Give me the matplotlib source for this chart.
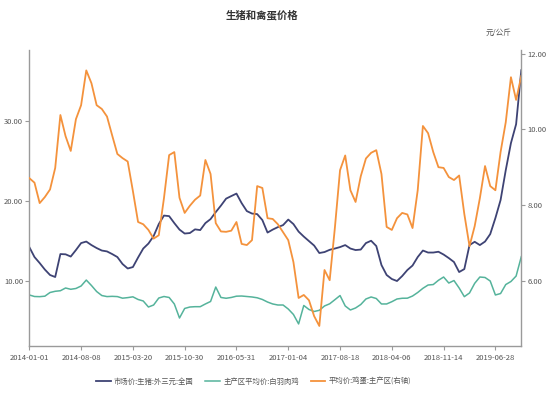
import matplotlib.pyplot as plt
import numpy as np

plt.rcParams['font.family'] = ['Noto Sans CJK SC', 'DejaVu Sans']

# x axis labels, one every 10 points
tick_labels = ['2014-01-01', '2014-08-08', '2015-03-20', '2015-10-30', '2016-05-31',
               '2017-01-04', '2017-08-18', '2018-04-06', '2018-11-14', '2019-06-28']
tick_every = 10

# 市场价:生猪:外三元:全国 (left axis)
hog = [14.23, 12.99, 12.24, 11.43, 10.75, 10.50, 13.36, 13.33, 13.05, 13.86,
       14.73, 14.92, 14.48, 14.11, 13.80, 13.69, 13.36, 12.99, 12.12, 11.56,
       11.74, 12.93, 14.05, 14.67, 15.60, 17.10, 18.16, 18.09, 17.22, 16.41,
       15.92, 15.98, 16.44, 16.35, 17.22, 17.72, 18.59, 19.40, 20.27, 20.59,
       20.90, 19.71, 18.72, 18.41, 18.34, 17.60, 16.04, 16.41, 16.72, 16.97,
       17.66, 17.10, 16.16, 15.54, 14.98, 14.42, 13.49, 13.61, 13.89, 14.05,
       14.23, 14.48, 14.05, 13.86, 13.92, 14.73, 15.02, 14.36, 11.99, 10.75,
       10.25, 10.00, 10.62, 11.37, 11.93, 12.99, 13.80, 13.55, 13.55, 13.65,
       13.30, 12.86, 12.37, 11.12, 11.49, 14.48, 14.89, 14.48, 14.92, 15.85,
       17.85, 20.09, 23.82, 27.19, 29.55, 36.28]

# 主产区平均价:白羽肉鸡 (left axis)
broiler = [8.26, 8.07, 8.05, 8.11, 8.57, 8.72, 8.79, 9.13, 8.97, 9.07,
           9.38, 10.12, 9.44, 8.69, 8.19, 8.06, 8.09, 8.06, 7.86, 7.93,
           8.03, 7.70, 7.51, 6.76, 7.01, 7.88, 8.07, 7.95, 7.14, 5.39,
           6.58, 6.76, 6.80, 6.80, 7.14, 7.45, 9.25, 7.95, 7.85, 7.95,
           8.11, 8.13, 8.07, 8.01, 7.91, 7.70, 7.38, 7.14, 7.01, 7.01,
           6.51, 5.83, 4.65, 6.95, 6.45, 6.20, 6.35, 6.89, 7.16, 7.67,
           8.19, 6.89, 6.39, 6.64, 7.07, 7.76, 8.01, 7.82, 7.14, 7.14,
           7.42, 7.76, 7.85, 7.86, 8.13, 8.57, 9.09, 9.50, 9.56, 10.09,
           10.50, 9.75, 10.06, 9.13, 8.05, 8.51, 9.71, 10.50, 10.44, 10.00,
           8.26, 8.44, 9.56, 9.94, 10.62, 13.03]

# 平均价:鸡蛋:主产区 (right axis)
egg = [8.71, 8.59, 8.05, 8.21, 8.41, 8.98, 10.38, 9.82, 9.43, 10.27,
       10.64, 11.56, 11.22, 10.64, 10.54, 10.34, 9.84, 9.35, 9.24, 9.15,
       8.37, 7.55, 7.49, 7.34, 7.11, 7.20, 8.18, 9.32, 9.40, 8.19,
       7.79, 7.98, 8.14, 8.25, 9.19, 8.82, 7.52, 7.30, 7.29, 7.32,
       7.55, 6.97, 6.94, 7.07, 8.50, 8.45, 7.65, 7.63, 7.49, 7.28,
       7.07, 6.49, 5.54, 5.62, 5.48, 5.06, 4.80, 6.28, 6.01, 7.39,
       8.92, 9.31, 8.39, 8.08, 8.76, 9.23, 9.38, 9.45, 8.82, 7.42,
       7.34, 7.65, 7.79, 7.75, 7.39, 8.39, 10.09, 9.90, 9.40, 9.00,
       8.98, 8.74, 8.66, 8.78, 7.76, 6.91, 7.44, 8.18, 9.03, 8.50,
       8.39, 9.40, 10.19, 11.38, 10.78, 11.41]

names = ['市场价:生猪:外三元:全国', '主产区平均价:白羽肉鸡', '平均价:鸡蛋:主产区(右轴)']
colors = ['#3e4374', '#55b39b', '#f4923c']

x = np.arange(len(hog))
axis_grey = '#9a9a9a'
label_grey = '#555555'

fig = plt.figure(figsize=(5.5, 3.93), dpi=100)
ax = fig.add_axes([0.0533, 0.1196, 0.8945, 0.7532])
ax2 = ax.twinx()

l1, = ax.plot(x, hog, color=colors[0], lw=1.3)
l2, = ax.plot(x, broiler, color=colors[1], lw=1.1)
l3, = ax2.plot(x, egg, color=colors[2], lw=1.3)

ax.set_xlim(0, len(hog) - 1)
ax.set_ylim(1.9, 38.8)
ax2.set_ylim(4.27, 12.1)

ax.set_yticks([10, 20, 30])
ax.set_yticklabels(['10.00', '20.00', '30.00'])
ax2.set_yticks([6, 8, 10, 12])
ax2.set_yticklabels(['6.00', '8.00', '10.00', '12.00'])
ax.set_xticks(np.arange(len(tick_labels)) * tick_every)
ax.set_xticklabels(tick_labels)

for a in (ax, ax2):
    a.spines['top'].set_visible(False)
    for s in ('left', 'right', 'bottom'):
        a.spines[s].set_color(axis_grey)
        a.spines[s].set_linewidth(1.0)
    a.tick_params(colors=axis_grey, labelcolor=label_grey, labelsize=5.5,
                  length=3, width=0.8, pad=1.5)
ax.spines['right'].set_visible(False)
ax2.spines['left'].set_visible(False)
ax2.spines['bottom'].set_visible(False)
ax.tick_params(axis='x', pad=3)

fig.text(0.476, 0.962, '生猪和禽蛋价格', ha='center', va='center', fontsize=7.5,
         fontweight='bold', color='#333333')
fig.text(0.907, 0.916, '元/公斤', ha='center', va='center', fontsize=5.5, color=label_grey)

fig.legend([l1, l2, l3], names, loc='center', bbox_to_anchor=(0.461, 0.028), ncol=3,
           frameon=False, fontsize=5.3, handlelength=2.0, handletextpad=0.4,
           columnspacing=1.6, labelcolor=label_grey)

fig.savefig('out.png', dpi=100)
